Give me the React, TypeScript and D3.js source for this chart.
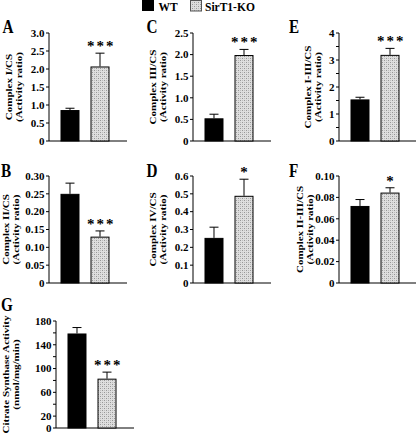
import React from "react";
import * as d3 from "d3";

// ---------- data ----------
const groups = ["WT", "SirT1-KO"];
const panelLetters = ["A", "B", "C", "D", "E", "F", "G"];
const yTitle1 = ["Complex I/CS", "Complex II/CS", "Complex III/CS", "Complex IV/CS", "Complex I-III/CS", "Complex II-III/CS", "Citrate Synthase Activity"];
const yTitle2 = ["(Activity ratio)", "(Activity ratio)", "(Activity ratio)", "(Activity ratio)", "(Activity ratio)", "(Activity ratio)", "(nmol/mg/min)"];
const wtMean = [0.86, 0.25, 0.525, 0.253, 1.54, 0.072, 159];
const wtSem = [0.05, 0.03, 0.095, 0.06, 0.08, 0.006, 10];
const koMean = [2.07, 0.13, 1.99, 0.489, 3.19, 0.0845, 83];
const koSem = [0.37, 0.016, 0.13, 0.093, 0.24, 0.0045, 11];
const significance = ["***", "***", "***", "*", "***", "*", "***"];
const yMax = [3.0, 0.3, 2.5, 0.6, 4, 0.1, 180];
const majorTicks = [
  [0, 0.5, 1.0, 1.5, 2.0, 2.5, 3.0],
  [0, 0.05, 0.1, 0.15, 0.2, 0.25, 0.3],
  [0, 0.5, 1.0, 1.5, 2.0, 2.5],
  [0, 0.1, 0.2, 0.3, 0.4, 0.5, 0.6],
  [0, 1, 2, 3, 4],
  [0, 0.02, 0.04, 0.06, 0.08, 0.1],
  [0, 20, 60, 100, 140, 180],
];
const minorTicks = [[], [], [], [], [0.5, 1.5, 2.5, 3.5], [], [40, 80, 120, 160]];
const tickFormats = [".1f", ".2f", ".1f", ".1f", "d", ".2f", "d"];

// ---------- layout ----------
const layout = [
  { ax: 49, top: 33, bottom: 141, lx: 2.5, ly: 33, t1: 43 },
  { ax: 49, top: 176, bottom: 283, lx: 1, ly: 176.5, t1: 46 },
  { ax: 193, top: 33, bottom: 141, lx: 146.5, ly: 33, t1: 43 },
  { ax: 193, top: 176, bottom: 283, lx: 146.5, ly: 176.5, t1: 43 },
  { ax: 339, top: 33, bottom: 141, lx: 289, ly: 33, t1: 34 },
  { ax: 339, top: 176, bottom: 283, lx: 289, ly: 176.5, t1: 42 },
  { ax: 56, top: 321, bottom: 428, lx: 1, ly: 310.5, t1: 53 },
];

const FONT = "'Liberation Serif', 'Times New Roman', serif";
const SQ = 0.78; // horizontal squeeze seen in the reference lettering

function Panel({ i }: { i: number }) {
  const L = layout[i];
  const y = d3.scaleLinear().domain([0, yMax[i]]).range([L.bottom, L.top]);
  const x = d3
    .scaleBand<string>()
    .domain(groups)
    .range([L.ax, L.ax + 72])
    .paddingInner(0.367)
    .paddingOuter(0.383);
  const fmt = d3.format(tickFormats[i]);
  const means = [wtMean[i], koMean[i]];
  const sems = [wtSem[i], koSem[i]];
  const fills = ["#000", "url(#dots)"];
  const midY = (L.top + L.bottom) / 2;
  const b1 = L.ax - L.t1 + 7.3 * SQ;
  const b2 = b1 + 10.5;
  const koX = (x("SirT1-KO") as number) + x.bandwidth() / 2;
  const koTop = y(koMean[i] + koSem[i]);
  const sig = significance[i];
  return (
    <g>
      <text
        transform={`translate(${L.lx},${L.ly}) scale(${SQ},1)`}
        fontFamily={FONT}
        fontWeight="bold"
        fontSize={19.5}
      >
        {panelLetters[i]}
      </text>
      <text
        transform={`translate(${b1},${midY}) scale(${SQ},1) rotate(-90)`}
        textAnchor="middle"
        fontFamily={FONT}
        fontWeight="bold"
        fontSize={11}
      >
        {yTitle1[i]}
      </text>
      <text
        transform={`translate(${b2},${midY}) scale(${SQ},1) rotate(-90)`}
        textAnchor="middle"
        fontFamily={FONT}
        fontWeight="bold"
        fontSize={11}
      >
        {yTitle2[i]}
      </text>
      {/* y axis */}
      <line x1={L.ax} x2={L.ax} y1={L.top} y2={L.bottom} stroke="#000" strokeWidth={1} />
      {majorTicks[i].map((t) => (
        <g key={"M" + t}>
          <line x1={L.ax - 3} x2={L.ax} y1={y(t)} y2={y(t)} stroke="#000" strokeWidth={1} />
          <text
            x={L.ax - 4.5}
            y={y(t)}
            dy="0.34em"
            textAnchor="end"
            fontFamily={FONT}
            fontWeight="bold"
            fontSize={11}
          >
            {t === 0 ? "0" : fmt(t)}
          </text>
        </g>
      ))}
      {minorTicks[i].map((t) => (
        <line key={"m" + t} x1={L.ax - 3} x2={L.ax} y1={y(t)} y2={y(t)} stroke="#000" strokeWidth={1} />
      ))}
      {/* x axis */}
      <line x1={L.ax} x2={L.ax + 78} y1={L.bottom} y2={L.bottom} stroke="#000" strokeWidth={1} />
      {/* bars */}
      {groups.map((g, k) => {
        const x0 = x(g) as number;
        const cx = x0 + x.bandwidth() / 2;
        const yt = y(means[k]);
        const ye = y(means[k] + sems[k]);
        return (
          <g key={g}>
            <line x1={cx} x2={cx} y1={yt} y2={ye} stroke="#000" strokeWidth={1} />
            <line x1={cx - 4.5} x2={cx + 4.5} y1={ye} y2={ye} stroke="#000" strokeWidth={1} />
            <rect
              x={x0 + 0.5}
              y={yt + 0.5}
              width={x.bandwidth() - 1}
              height={L.bottom - yt - 0.5}
              fill={fills[k]}
              stroke="#000"
              strokeWidth={1}
            />
          </g>
        );
      })}
      <text
        x={koX + (sig.length > 1 ? 1.2 : 0)}
        y={koTop - 2}
        textAnchor="middle"
        fontFamily={FONT}
        fontWeight="bold"
        fontSize={15}
        letterSpacing={sig.length > 1 ? 2 : 0}
      >
        {sig}
      </text>
    </g>
  );
}

export default function App() {
  return (
    <svg
      width={416}
      height={433}
      style={{ position: "absolute", left: 0, top: 0, background: "#fff" }}
    >
      <defs>
        <pattern id="dots" width={4} height={4} patternUnits="userSpaceOnUse">
          <rect width={4} height={4} fill="#dedede" />
          <rect x={0} y={0} width={1} height={1} fill="#969696" />
          <rect x={2} y={2} width={1} height={1} fill="#969696" />
          <rect x={2} y={0} width={1} height={1} fill="#bdbdbd" />
          <rect x={0} y={2} width={1} height={1} fill="#bdbdbd" />
        </pattern>
      </defs>
      <rect width={416} height={433} fill="#fff" />
      {/* legend */}
      <rect x={142} y={0} width={12} height={11} fill="#000" />
      <text x={158.5} y={11} fontFamily={FONT} fontWeight="bold" fontSize={11.5}>
        {groups[0]}
      </text>
      <rect x={190.5} y={0.5} width={11} height={10.5} fill="url(#dots)" stroke="#555" strokeWidth={1} />
      <text x={205} y={11} fontFamily={FONT} fontWeight="bold" fontSize={11.5}>
        {groups[1]}
      </text>
      {panelLetters.map((_, i) => (
        <Panel key={i} i={i} />
      ))}
    </svg>
  );
}
